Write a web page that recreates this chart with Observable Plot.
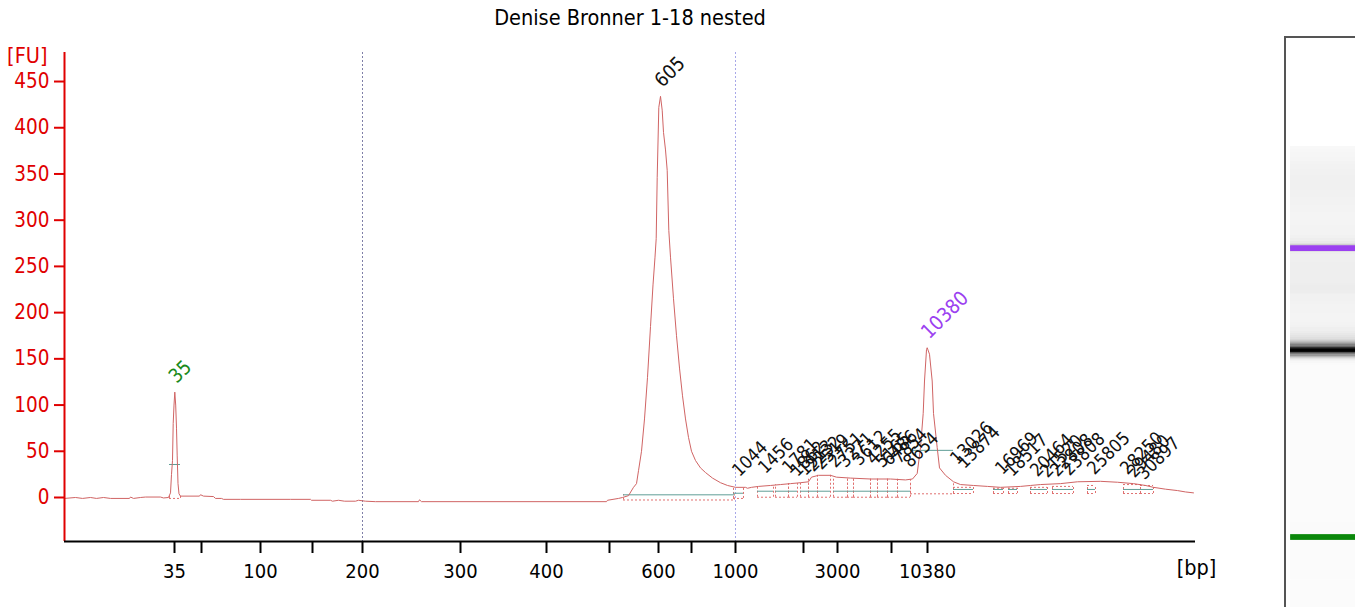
<!DOCTYPE html>
<html><head><meta charset="utf-8">
<script src="https://cdn.jsdelivr.net/npm/d3@7"></script>
<script src="https://cdn.jsdelivr.net/npm/@observablehq/plot@0.6"></script>
<style>
body{margin:0;background:#fff;}
#wrap{position:relative;width:1355px;height:607px;overflow:hidden;font-family:"DejaVu Sans Condensed","Liberation Sans",sans-serif;}
#main{position:absolute;left:0;top:0;}
#gel{position:absolute;left:1284px;top:36px;width:71px;height:571px;border-left:2px solid #555;border-top:2px solid #555;box-sizing:border-box;background:#fff;}
#gel svg, #main svg{display:block;}
</style></head><body><div id="wrap"><div id="main"></div><div id="gel"></div></div>
<script>
// ---- data (migration time units vs fluorescence units) ----
const ladderSizes  = [35, 50, 100, 150, 200, 300, 400, 500, 600, 700, 1000, 2000, 3000, 7000, 10380];
const ladderTimes  = [31.0, 33.7, 39.6, 44.8, 49.8, 59.6, 68.2, 74.5, 79.4, 82.7, 87.1, 93.9, 97.3, 102.7, 106.3];
const ladderLabels = ["35", "", "100", "", "200", "300", "400", "", "600", "", "1000", "", "3000", "", "10380"];
const fuTicks = [0, 50, 100, 150, 200, 250, 300, 350, 400, 450];
const guideTimes = [49.8, 87.1];

const traceTime = [20.0,21.1,21.8,22.6,23.2,23.9,24.6,26.5,26.6,26.9,27.6,28.1,29.6,29.9,30.4,30.6,30.7,30.8,30.87,30.95,31.03,31.12,31.2,31.27,31.35,31.45,31.6,33.5,33.6,33.9,34.9,35.1,35.7,35.9,37.6,42.6,44.6,44.7,46.6,46.8,47.4,48.0,49.1,49.4,50.1,51.1,55.4,55.5,55.7,74.2,74.3,75.4,75.8,76.4,76.9,77.2,77.4,77.7,78.0,78.3,78.6,78.85,79.05,79.17,79.27,79.43,79.6,79.77,79.9,80.1,80.27,80.43,80.6,80.9,81.2,81.5,81.8,82.1,82.4,82.7,83.1,83.6,84.1,84.8,85.6,86.3,87.1,88.1,88.3,88.7,89.4,90.6,91.6,92.6,93.6,94.4,94.7,95.4,96.6,97.2,98.6,100.6,102.6,104.1,104.8,105.27,105.6,105.87,106.0,106.2,106.27,106.5,106.77,106.9,107.27,107.5,108.1,108.9,109.6,110.9,112.3,113.6,115.6,116.6,117.6,119.6,121.3,123.6,125.3,126.9,128.1,128.9,130.1,131.3,132.1,132.9];
const traceFU   = [-1,0,-1,0,-1,0,-1,-1,0.5,-1,0,0.5,0.5,-0.5,0,5,25,40,80,100,114,100,75,45,15,4,1.5,1.5,3,1.5,1,-1,-1,-2,-2,-2,-2,-3,-3,-4,-3,-4,-4,-3,-4,-4.5,-4.5,-2.5,-4.5,-4.5,-3,-1,0,2,11,15,29,50,85,130,185,230,260,280,346,422,434,419,395,376,354,289,260,215,175,140,110,85,65,50,40,32,27,21,16,13,11,11,10,11,12,13,14,15,16,17,22,24,24,22,21,20,20,19,20,26,54,91,126,160,162,155,126,91,54,32,24,17,14,13,12,11,12,13,14,15,17,17.5,16.5,15,13,11,9,7.5,6,5];

const markerLabels = ["35", "605", "10380"];
const markerTimes  = [31.03, 79.6, 106.27];
const markerFU     = [114, 434, 162];

const peakLabels = ["1044","1456","1781","1862","1913","2232","2519","2751","3271","3612","4255","5165","6486","7854","8654","13026","13874","16969","18517","20464","21520","22808","23808","25805","28250","29480","30897"];
const peakTimes  = [87.3,89.9,92.3,93.1,93.9,94.7,95.5,96.9,97.9,99.3,100.7,101.6,102.3,103.3,104.4,109.1,109.8,113.6,114.6,117.1,118.1,119.1,120.3,122.8,126.1,126.8,127.8];
const peakFU     = [13.0,16.2,16.2,13.0,14.1,18.4,20.6,22.7,22.7,24.9,26.0,22.7,24.9,27.0,22.7,26.0,21.6,15.1,13.0,13.0,11.9,13.0,14.1,15.1,15.1,11.9,9.7];

const regionStart = [30.5,75.9,86.9,89.3,91.1,92.4,93.6,94.4,95.3,96.9,98.3,98.9,100.6,101.3,102.3,103.3,104.6,108.9,112.9,114.4,116.6,118.8,122.3,125.9,127.6];
const regionEnd   = [31.6,87.0,87.9,90.9,92.4,93.3,94.4,95.3,96.6,98.3,98.9,100.6,101.3,102.3,103.3,104.6,108.9,110.9,113.9,115.3,118.3,120.9,123.1,127.6,128.9];
const regionBase  = [-1,-2.7,-1,0.3,0.3,0.3,0.3,0.3,0.3,0.3,0.3,0.3,0.3,0.3,0.3,0.3,4,4.3,4.3,4.3,4.3,4.3,4.3,4.3,4.3];
const regionTop   = [1.5,3,11,13,14,15,16,22,24,22,21,20.5,20,20,20,19,17,11,10,10,11,12,13,14,13];
const regionHalf  = [35.7,2.9,4.6,6.8,6.8,6.8,6.8,6.8,6.8,6.8,6.8,6.8,6.8,6.8,6.8,6.8,51,8.7,8.7,8.7,8.7,8.7,8.7,8.7,8.7];

// ---- derived tables ----
const trace = traceTime.map((t, i) => ({t, v: traceFU[i]}));
const markers = markerTimes.map((t, i) => ({t, v: markerFU[i], label: markerLabels[i]}));
const peaks = peakTimes.map((t, i) => ({t, v: peakFU[i], label: peakLabels[i]}));
const regions = regionStart.map((s, i) => ({s, e: regionEnd[i], b: regionBase[i], top: regionTop[i], h: regionHalf[i]}));
const ends = regions.flatMap(r => [{t: r.s, b: r.b, top: r.top}, {t: r.e, b: r.b, top: r.top}]);
const boxes = regions.filter(r => r.s >= 108.8);

const FONT = '"DejaVu Sans Condensed","Liberation Sans",sans-serif';
const RED = "#e00000";
const xMin = 20, xMax = 133.1, yMin = -47.6, yMax = 481.4;
const labelFmt = d => ladderLabels[ladderTimes.indexOf(d)];
const lbl = {x: "t", y: "v", text: "label", rotate: -45, textAnchor: "start", lineAnchor: "bottom", dx: 2, dy: -8};

const main = Plot.plot({
  width: 1355, height: 607,
  marginLeft: 64, marginRight: 160, marginTop: 52, marginBottom: 66,
  x: {domain: [xMin, xMax]},
  y: {domain: [yMin, yMax]},
  style: {fontFamily: FONT, fontSize: "20px", background: "transparent", overflow: "visible"},
  marks: [
    Plot.ruleX(guideTimes.slice(0,1), {stroke: "#7f7fa8", strokeDasharray: "2,2", strokeWidth: 1}),
    Plot.ruleX(guideTimes.slice(1), {stroke: "#a8a8e8", strokeDasharray: "2,2", strokeWidth: 1}),
    Plot.ruleY(regions, {x1: "s", x2: "e", y: "b", stroke: "#e07070", strokeDasharray: "2,2", strokeWidth: 1}),
    Plot.ruleY(boxes, {x1: "s", x2: "e", y: "top", stroke: "#e07070", strokeDasharray: "2,2", strokeWidth: 1}),
    Plot.ruleX(ends, {x: "t", y1: "b", y2: "top", stroke: "#e07070", strokeDasharray: "2,2", strokeWidth: 1}),
    Plot.ruleY(regions, {x1: "s", x2: "e", y: "h", stroke: "#5f9e96", strokeWidth: 1}),
    Plot.line(trace, {x: "t", y: "v", stroke: "#d06464", strokeWidth: 1}),
    Plot.axisY({ticks: fuTicks, tickSize: 10, tickPadding: 5, strokeWidth: 2, color: RED, fontSize: 20.5, label: null}),
    Plot.axisX({ticks: ladderTimes, tickFormat: labelFmt, tickSize: 12, tickPadding: 10, strokeWidth: 2, color: "#000", fontSize: 20, label: null}),
    Plot.ruleX([xMin], {stroke: RED, strokeWidth: 2}),
    Plot.ruleY([yMin], {stroke: "#000", strokeWidth: 2}),
    Plot.text(peaks, {...lbl, fontSize: 18, fill: "#111"}),
    Plot.text(markers.slice(0,1), {...lbl, fontSize: 19.5, fill: "#1a8a1a"}),
    Plot.text(markers.slice(1,2), {...lbl, fontSize: 19.5, fill: "#111"}),
    Plot.text(markers.slice(2,3), {...lbl, fontSize: 20, fill: "#9b40f0"}),
    Plot.text(["[FU]"], {frameAnchor: "top-left", textAnchor: "end", dx: -17, dy: -5, fontSize: 21.5, fill: RED}),
    Plot.text(["[bp]"], {frameAnchor: "bottom-right", textAnchor: "middle", dx: 1, dy: 33, fontSize: 21.5, fill: "#000"}),
    Plot.text(["Denise Bronner 1-18 nested"], {frameAnchor: "top", dy: -43, fontSize: 21.5, fill: "#000"})
  ]
});
document.getElementById("main").appendChild(main);

// ---- gel lane ----
const gelSegs = traceTime.slice(0, -1).map((t, i) => ({y1: t, y2: traceTime[i + 1], v: (traceFU[i] + traceFU[i + 1]) / 2}));
const gel = Plot.plot({
  width: 69, height: 569, margin: 0,
  x: {domain: [0, 1], axis: null},
  y: {domain: [12.8, 161], axis: null},
  color: {type: "linear", domain: [0, 400], range: ["#fbfbfb", "#000000"], clamp: true},
  style: {background: "#fff"},
  marks: [
    Plot.rect([{y1: 12.8, y2: traceTime[0]}], {x1: 0.06, x2: 1, y1: "y1", y2: "y2", fill: "#fbfbfb"}),
    Plot.rect(gelSegs, {x1: 0.06, x2: 1, y1: "y1", y2: "y2", fill: "v", shapeRendering: "crispEdges"}),
    Plot.rect(markers.slice(0,1), {x1: 0.06, x2: 1, y1: d => d.t - 0.75, y2: d => d.t + 0.75, fill: "#0a870a"}),
    Plot.rect(markers.slice(2,3), {x1: 0.06, x2: 1, y1: d => d.t - 0.75, y2: d => d.t + 0.75, fill: "#9b40f0"})
  ]
});
document.getElementById("gel").appendChild(gel);
</script></body></html>
